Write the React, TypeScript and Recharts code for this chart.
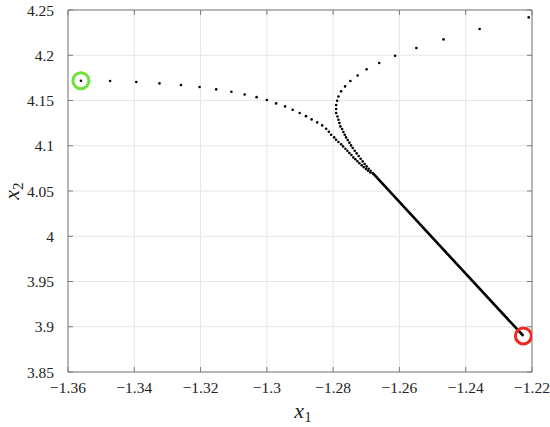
import React from "react"
import { ScatterChart, Scatter, XAxis, YAxis, CartesianGrid } from "recharts"

// trajectory starting at the green marker (x1, x2)
const branchA: [number, number][] = [
  [-1.3561, 4.1719], [-1.3473, 4.1716], [-1.3394, 4.1704], [-1.3324, 4.1689],
  [-1.3259, 4.1671], [-1.3203, 4.1649], [-1.3153, 4.1623], [-1.3107, 4.1597],
  [-1.3067, 4.1567], [-1.3031, 4.1537], [-1.3, 4.1506], [-1.2972, 4.1468],
  [-1.2945, 4.1435], [-1.2922, 4.1398], [-1.2901, 4.1362], [-1.2882, 4.1327],
  [-1.2865, 4.1291], [-1.2848, 4.1258], [-1.2833, 4.1225], [-1.2821, 4.1188],
  [-1.2813, 4.1155], [-1.2806, 4.1122], [-1.2797, 4.1092], [-1.2791, 4.1067],
  [-1.2784, 4.1041], [-1.2776, 4.1017], [-1.277, 4.0993], [-1.2763, 4.0967],
  [-1.2757, 4.0945], [-1.2751, 4.092], [-1.2745, 4.0898], [-1.2739, 4.0871],
  [-1.2733, 4.0851], [-1.2727, 4.0829], [-1.2721, 4.0807], [-1.2714, 4.0785],
  [-1.2708, 4.0764], [-1.2701, 4.0744], [-1.2695, 4.0724], [-1.2688, 4.0704],
]

// trajectory coming down from the top right corner
const branchB: [number, number][] = [
  [-1.221, 4.2418], [-1.2358, 4.229], [-1.2467, 4.2175], [-1.2549, 4.208],
  [-1.2613, 4.1995], [-1.2661, 4.1914], [-1.2699, 4.1844], [-1.2726, 4.1777],
  [-1.2748, 4.1716], [-1.2764, 4.1656], [-1.2776, 4.1601], [-1.2784, 4.1545],
  [-1.2788, 4.1498], [-1.2791, 4.145], [-1.2791, 4.1406], [-1.2791, 4.1362],
  [-1.2787, 4.1324], [-1.2784, 4.1288], [-1.2781, 4.1251], [-1.2778, 4.1214],
  [-1.2773, 4.1185], [-1.2769, 4.1152], [-1.2765, 4.1122], [-1.2761, 4.1092],
  [-1.2756, 4.1064], [-1.2751, 4.1034], [-1.2746, 4.1004], [-1.2741, 4.0975],
  [-1.2735, 4.0945], [-1.2729, 4.0916], [-1.2723, 4.0887], [-1.2717, 4.0857],
  [-1.2711, 4.0827], [-1.2705, 4.0798], [-1.2699, 4.0772], [-1.2693, 4.0746],
  [-1.2687, 4.0724], [-1.2681, 4.0699],
]

// dense part where the dots merge into a solid line
const denseSegment: [number, number][] = [
  [-1.2681, 4.0699], [-1.2226, 3.8898],
]

const startPoint: [number, number][] = [[-1.3561, 4.1719]]
const endPoint: [number, number][] = [[-1.2226, 3.8898]]

const xTicks = [-1.36, -1.34, -1.32, -1.3, -1.28, -1.26, -1.24, -1.22]
const xTickLabels = ["\u22121.36", "\u22121.34", "\u22121.32", "\u22121.3", "\u22121.28", "\u22121.26", "\u22121.24", "\u22121.22"]
const yTicks = [3.85, 3.9, 3.95, 4, 4.05, 4.1, 4.15, 4.2, 4.25]
const yTickLabels = ["3.85", "3.9", "3.95", "4", "4.05", "4.1", "4.15", "4.2", "4.25"]

const toPoints = (arr: [number, number][]) => arr.map(([x1, x2]) => ({ x1, x2 }))

const FONT = "'Times New Roman', Tinos, 'Liberation Serif', 'DejaVu Serif', serif"
const BOX = "#7a7a7a"
const tickStyle = { fill: "#222", fontSize: 15.5, fontFamily: FONT, style: { fontFamily: FONT } }

const Dot = (props: any) => <circle cx={props.cx} cy={props.cy} r={1.3} fill="#000" />
const Empty = () => <g />
const Ring = (color: string) => (props: any) =>
  <circle cx={props.cx} cy={props.cy} r={8} fill="none" stroke={color} strokeWidth={3} />

const XTitle = (props: any) => {
  const vb = props.viewBox
  return (
    <text x={vb.x + vb.width / 2 + 3} y={418} textAnchor="middle" style={{ fontFamily: FONT }} fill="#222">
      <tspan fontStyle="italic" fontSize={22}>x</tspan>
      <tspan fontSize={15} dy={4}>1</tspan>
    </text>
  )
}

const YTitle = (props: any) => {
  const vb = props.viewBox
  return (
    <text transform={`translate(19, ${vb.y + vb.height / 2}) rotate(-90)`} textAnchor="middle" style={{ fontFamily: FONT }} fill="#222">
      <tspan fontStyle="italic" fontSize={22}>x</tspan>
      <tspan fontSize={15} dy={4}>2</tspan>
    </text>
  )
}

export default function App() {
  return (
    <div style={{ position: "absolute", left: 0, top: 0, background: "#fff", fontFamily: FONT }}>
      <ScatterChart width={550} height={427} margin={{ top: 9, right: 17, bottom: 15, left: 8 }} style={{ fontFamily: FONT }}>
        <CartesianGrid stroke="#e6e6e6" horizontalValues={yTicks} verticalValues={xTicks} />
        <XAxis
          type="number" dataKey="x1" domain={[-1.36, -1.22]} ticks={xTicks}
          tickFormatter={(_v: number, i: number) => xTickLabels[i]}
          tick={tickStyle} tickSize={-5} tickMargin={15} height={40}
          stroke={BOX} tickLine={{ stroke: BOX }} allowDataOverflow
          label={<XTitle />}
        />
        <XAxis
          xAxisId="top" orientation="top" type="number" dataKey="x1" domain={[-1.36, -1.22]}
          ticks={xTicks} tickFormatter={() => ""} tickSize={-5} height={1}
          stroke={BOX} tickLine={{ stroke: BOX }} allowDataOverflow
        />
        <YAxis
          type="number" dataKey="x2" domain={[3.85, 4.25]} ticks={yTicks}
          tickFormatter={(_v: number, i: number) => yTickLabels[i]}
          tick={tickStyle} tickSize={-5} tickMargin={19} width={60}
          stroke={BOX} tickLine={{ stroke: BOX }} allowDataOverflow
          label={<YTitle />}
        />
        <YAxis
          yAxisId="right" orientation="right" type="number" dataKey="x2" domain={[3.85, 4.25]}
          ticks={yTicks} tickFormatter={() => ""} tickSize={-5} width={1}
          stroke={BOX} tickLine={{ stroke: BOX }} allowDataOverflow
        />
        <Scatter data={toPoints(denseSegment)} line={{ stroke: "#000", strokeWidth: 2.6 }} shape={Empty} isAnimationActive={false} />
        <Scatter data={toPoints(branchA)} shape={Dot} isAnimationActive={false} />
        <Scatter data={toPoints(branchB)} shape={Dot} isAnimationActive={false} />
        <Scatter data={toPoints(startPoint)} shape={Ring("#6fe23a")} isAnimationActive={false} />
        <Scatter data={toPoints(endPoint)} shape={Ring("#ee2a1e")} isAnimationActive={false} />
      </ScatterChart>
    </div>
  )
}
